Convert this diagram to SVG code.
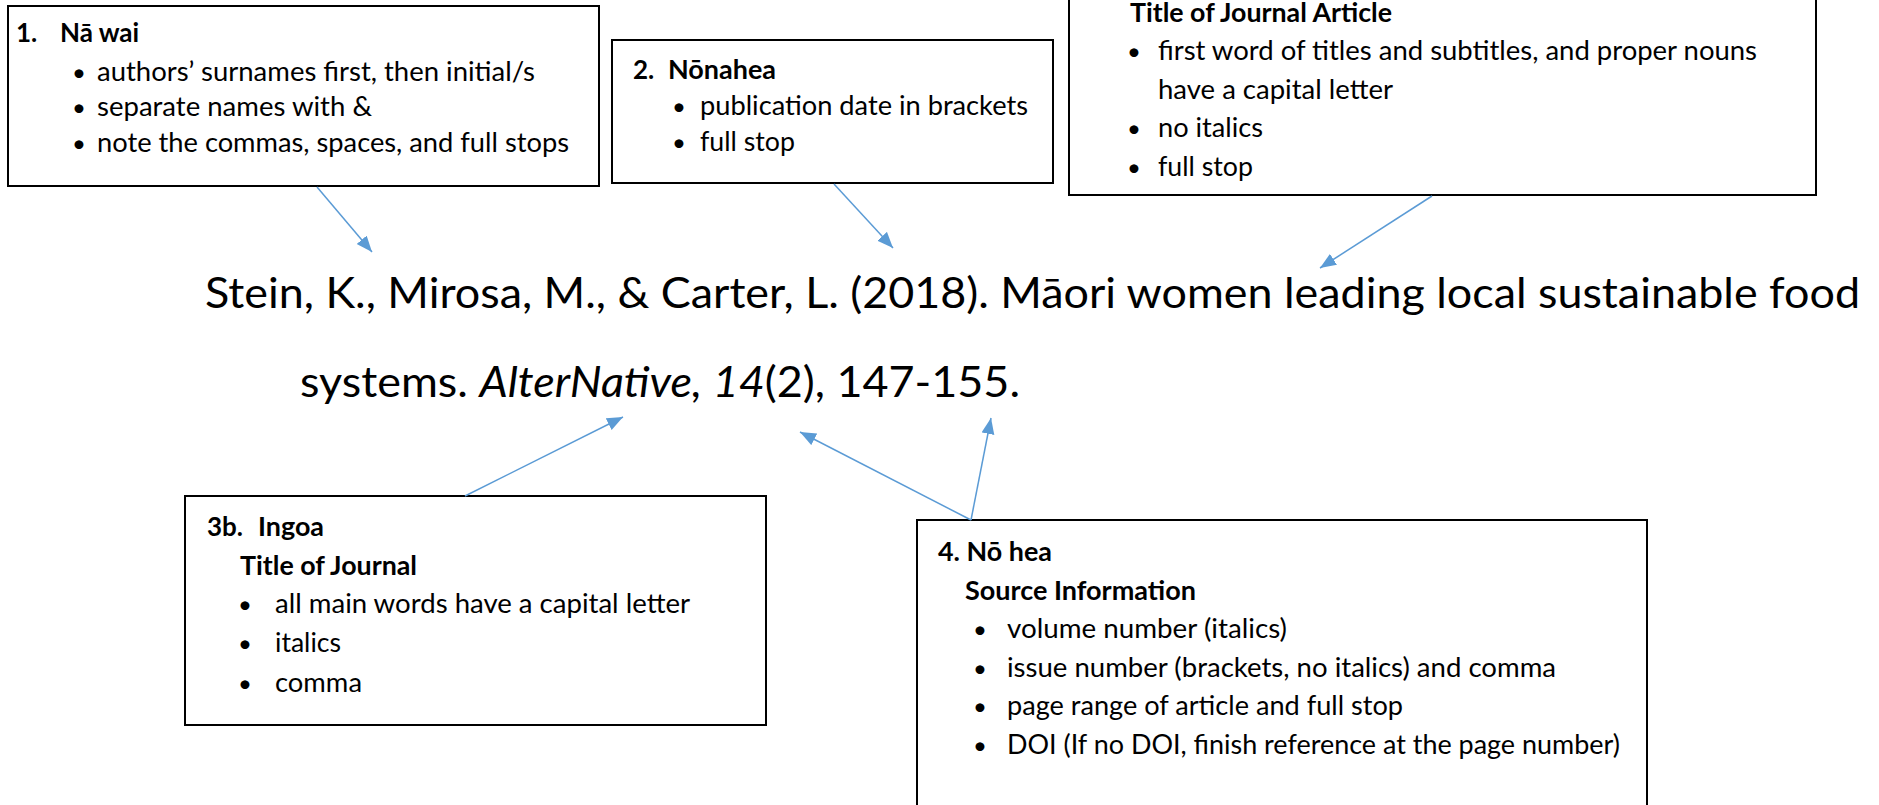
<svg xmlns="http://www.w3.org/2000/svg" width="1879" height="805" viewBox="0 0 1879 805">
<style>
.box{fill:#fff;stroke:#000;stroke-width:2}
.t{font-family:Lato,"Open Sans","Liberation Sans",sans-serif;font-size:26px;fill:#000}
.h{font-family:Lato,"Open Sans","Liberation Sans",sans-serif;font-size:26px;font-weight:bold;fill:#000}
.b{font-family:Lato,"Open Sans","Liberation Sans",sans-serif;font-size:24px;fill:#000;text-anchor:middle}
.m{font-family:Lato,"Open Sans","Liberation Sans",sans-serif;font-size:43px;fill:#000}
.c{fill:none;stroke:#5B9BD5;stroke-width:1.5;marker-end:url(#ah)}
</style>
<defs>
<marker id="ah" markerUnits="userSpaceOnUse" markerWidth="17" markerHeight="14" refX="16" refY="6.5" orient="auto">
<path d="M0,0 L16,6.5 L0,13 z" fill="#5B9BD5"/>
</marker>
</defs>
<rect width="1879" height="805" fill="#fff"/>

<g id="node1">
<rect class="box" x="8" y="6" width="591" height="180"/>
<text class="h" x="16" y="42">1.</text>
<text class="h" x="60" y="42">Nā wai</text>
<text class="b" x="79" y="81">•</text>
<text class="t" x="97" y="81" textLength="438" lengthAdjust="spacingAndGlyphs">authors’ surnames first, then initial/s</text>
<text class="b" x="79" y="116">•</text>
<text class="t" x="97" y="116" textLength="275" lengthAdjust="spacingAndGlyphs">separate names with &amp;</text>
<text class="b" x="79" y="152">•</text>
<text class="t" x="97" y="152" textLength="472" lengthAdjust="spacingAndGlyphs">note the commas, spaces, and full stops</text>
</g>

<g id="node2">
<rect class="box" x="612" y="40" width="441" height="143"/>
<text class="h" x="633" y="79">2.</text>
<text class="h" x="668" y="79" textLength="108" lengthAdjust="spacingAndGlyphs">Nōnahea</text>
<text class="b" x="679" y="115">•</text>
<text class="t" x="700" y="115" textLength="328" lengthAdjust="spacingAndGlyphs">publication date in brackets</text>
<text class="b" x="679" y="151">•</text>
<text class="t" x="700" y="151" textLength="95" lengthAdjust="spacingAndGlyphs">full stop</text>
</g>

<g id="node3a">
<rect class="box" x="1069" y="-40" width="747" height="235"/>
<text class="h" x="1130" y="22" textLength="262" lengthAdjust="spacingAndGlyphs">Title of Journal Article</text>
<text class="b" x="1134" y="60">•</text>
<text class="t" x="1158" y="60" textLength="599" lengthAdjust="spacingAndGlyphs">first word of titles and subtitles, and proper nouns</text>
<text class="t" x="1158" y="99" textLength="235" lengthAdjust="spacingAndGlyphs">have a capital letter</text>
<text class="b" x="1134" y="137">•</text>
<text class="t" x="1158" y="137" textLength="105" lengthAdjust="spacingAndGlyphs">no italics</text>
<text class="b" x="1134" y="176">•</text>
<text class="t" x="1158" y="176" textLength="95" lengthAdjust="spacingAndGlyphs">full stop</text>
</g>

<g id="reference">
<text class="m" x="205" y="308" textLength="1655" lengthAdjust="spacingAndGlyphs">Stein, K., Mirosa, M., &amp; Carter, L. (2018). Māori women leading local sustainable food</text>
<text class="m" x="300" y="397" textLength="720" lengthAdjust="spacingAndGlyphs">systems. <tspan font-style="italic">AlterNative, 14</tspan>(2), 147-155.</text>
</g>

<g id="node3b">
<rect class="box" x="185" y="496" width="581" height="229"/>
<text class="h" x="207" y="536">3b.</text>
<text class="h" x="258" y="536" textLength="66" lengthAdjust="spacingAndGlyphs">Ingoa</text>
<text class="h" x="240" y="575" textLength="177" lengthAdjust="spacingAndGlyphs">Title of Journal</text>
<text class="b" x="245" y="613">•</text>
<text class="t" x="275" y="613" textLength="415" lengthAdjust="spacingAndGlyphs">all main words have a capital letter</text>
<text class="b" x="245" y="652">•</text>
<text class="t" x="275" y="652" textLength="66" lengthAdjust="spacingAndGlyphs">italics</text>
<text class="b" x="245" y="692">•</text>
<text class="t" x="275" y="692" textLength="87" lengthAdjust="spacingAndGlyphs">comma</text>
</g>

<g id="node4">
<rect class="box" x="917" y="520" width="730" height="320"/>
<text class="h" x="938" y="561" textLength="114" lengthAdjust="spacingAndGlyphs">4. Nō hea</text>
<text class="h" x="965" y="600" textLength="231" lengthAdjust="spacingAndGlyphs">Source Information</text>
<text class="b" x="980" y="638">•</text>
<text class="t" x="1007" y="638" textLength="280" lengthAdjust="spacingAndGlyphs">volume number (italics)</text>
<text class="b" x="980" y="677">•</text>
<text class="t" x="1007" y="677" textLength="549" lengthAdjust="spacingAndGlyphs">issue number (brackets, no italics) and comma</text>
<text class="b" x="980" y="715">•</text>
<text class="t" x="1007" y="715" textLength="396" lengthAdjust="spacingAndGlyphs">page range of article and full stop</text>
<text class="b" x="980" y="754">•</text>
<text class="t" x="1007" y="754" textLength="613" lengthAdjust="spacingAndGlyphs">DOI (If no DOI, finish reference at the page number)</text>
</g>

<g id="connectors">
<line class="c" x1="317" y1="187" x2="372" y2="252"/>
<line class="c" x1="834" y1="184" x2="893" y2="248"/>
<line class="c" x1="1432" y1="196" x2="1320" y2="268"/>
<line class="c" x1="465" y1="496" x2="623" y2="417"/>
<line class="c" x1="971" y1="520" x2="800" y2="432"/>
<line class="c" x1="971" y1="520" x2="991" y2="418"/>
</g>
</svg>
